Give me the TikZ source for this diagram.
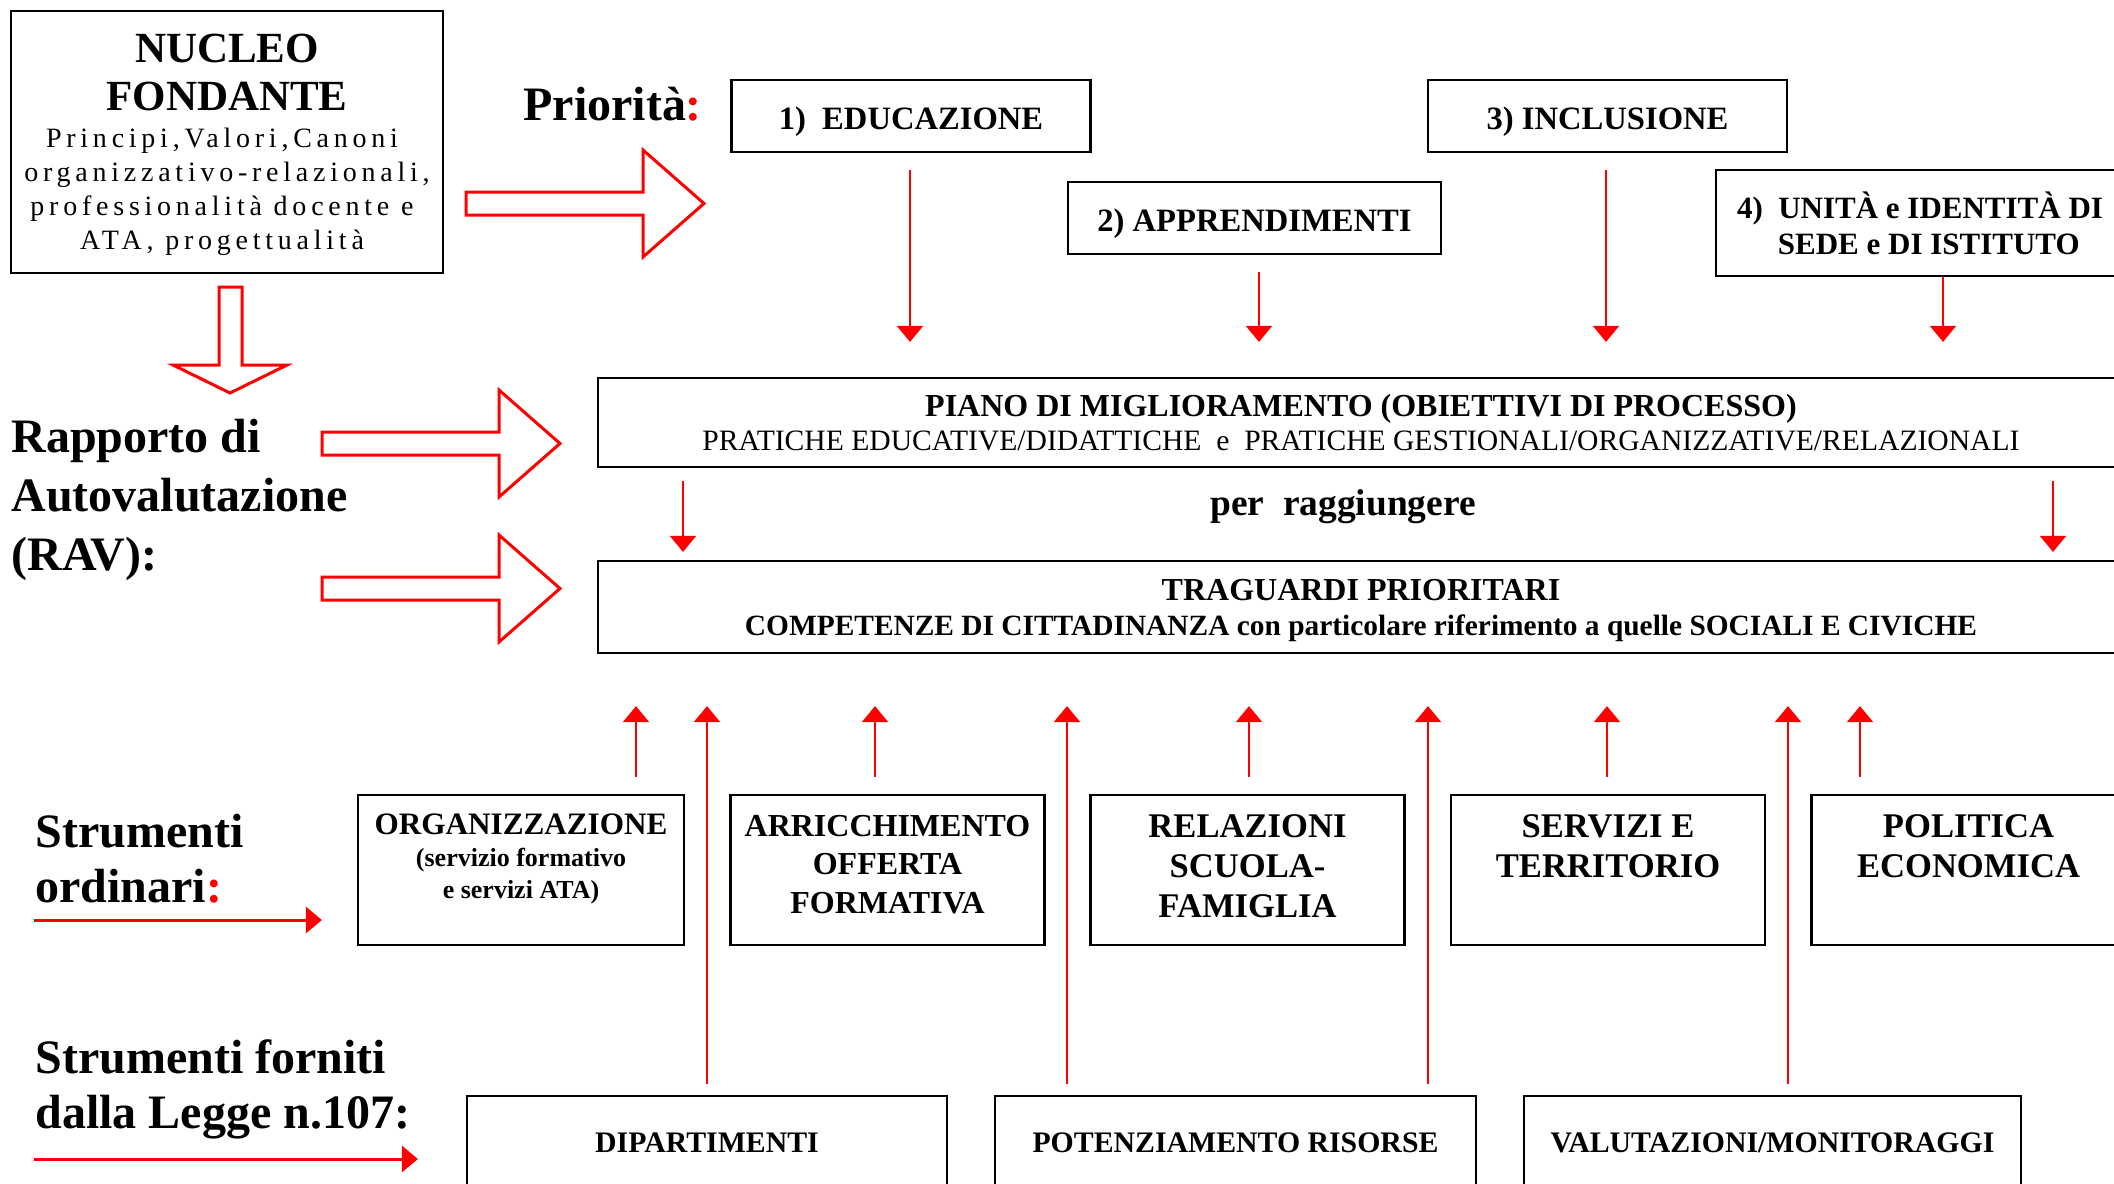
\documentclass[tikz,border=0pt]{standalone}
\usepackage{fontspec}
\setmainfont{Liberation Serif}
\newfontfamily\spaced[LetterSpace=17]{Liberation Serif}
\usetikzlibrary{arrows.meta}

\begin{document}
\begin{tikzpicture}[x=0.5pt,y=-0.5pt,>={Triangle[length=8pt,width=13pt]},
    arr/.style={->,red,line width=1pt},
    hollow/.style={draw=red,line width=1.5pt},
    prio box/.style={draw,line width=1.1pt,minimum width=179.5pt,minimum height=36pt,align=center,font=\bfseries\fontsize{16.3}{19}\selectfont},
    one line/.style={text height=16pt,text depth=2.6pt},
    wide box/.style={draw,line width=1.1pt,minimum width=763pt,align=center,font=\bfseries\fontsize{16}{17}\selectfont},
    tool box/.style={draw,line width=1.1pt,minimum width=157pt,minimum height=75pt},
    tool text/.style={anchor=north,yshift=-7pt,align=center,font=\bfseries\fontsize{17.3}{20}\selectfont},
    legge box/.style={draw,line width=1.1pt,minimum height=47pt,font=\bfseries\fontsize{14.9}{17}\selectfont},
    side text/.style={anchor=base west,inner sep=0pt,align=left,font=\bfseries\fontsize{24}{27.5}\selectfont}]

            \useasboundingbox (0,0) rectangle (2114,1183);

            \node[draw,line width=1pt,minimum width=216pt,minimum height=131pt,inner ysep=0pt,text depth=0pt,align=center,font=\spaced\fontsize{14}{17}\selectfont] (nucleo) at (227,142)
                {{\rmfamily\bfseries\fontsize{21.5}{24}\selectfont NUCLEO}\\[7pt]{\rmfamily\bfseries\fontsize{21.5}{24}\selectfont FONDANTE}\\[1.5pt]Principi,Valori,Canoni\kern5pt\\organizzativo-relazionali,\\professionalità docente e\kern5pt\\ATA, progettualità\kern5pt};
            \node[anchor=base west,inner sep=0pt,font=\bfseries\fontsize{24}{28}\selectfont] (prio) at (523,120) {Priorità\textcolor{red}{:}};

            \node[prio box,one line] (p1) at (911,116) {1)\enspace EDUCAZIONE};
            \node[prio box,one line,minimum width=186.5pt] (p2) at (1254.5,218) {2) APPRENDIMENTI};
            \node[prio box,one line] (p3) at (1607.5,116) {3) INCLUSIONE};
            \node[prio box,minimum width=204pt,minimum height=53pt,font=\bfseries\fontsize{15.5}{18}\selectfont] (p4) at (1920,223) {4)\enspace UNITÀ e IDENTITÀ DI\\\kern8.8pt SEDE e DI ISTITUTO};

            \node[wide box,minimum height=44.5pt,text depth=-2.5pt] (piano) at (1361,422.5) {PIANO DI MIGLIORAMENTO (OBIETTIVI DI PROCESSO)\\{\mdseries\fontsize{14.8}{17}\selectfont PRATICHE EDUCATIVE/DIDATTICHE\ \ e\ \ PRATICHE GESTIONALI/ORGANIZZATIVE/RELAZIONALI}};
            \node[font=\bfseries\fontsize{18.7}{20}\selectfont] (per) at (1343,507) {per\ \ raggiungere};
            \node[wide box,minimum height=46pt,text depth=-1pt] (trag) at (1361,607) {TRAGUARDI PRIORITARI\\[0.5pt]{\fontsize{14.7}{17}\selectfont COMPETENZE DI CITTADINANZA con particolare riferimento a quelle SOCIALI E CIVICHE}};

            \node[side text,font=\bfseries\fontsize{24}{29.5}\selectfont] (rav) at (11,570) {Rapporto di\\Autovalutazione\\(RAV):};
            \node[side text] (ordinari) at (35,902) {Strumenti\\ordinari\textcolor{red}{:}};
            \node[side text] (legge) at (35,1128) {Strumenti forniti\\dalla Legge n.107:};

            \node[tool box,minimum width=163pt,label={[tool text,yshift=0.5pt,font=\bfseries\fontsize{15.6}{20}\selectfont]north:{ORGANIZZAZIONE\\[-4pt]{\fontsize{13}{15.5}\selectfont(servizio formativo}\\[-4pt]{\fontsize{13}{15.5}\selectfont e servizi ATA)}}}] (s1) at (521,870) {};
            \node[tool box,label={[tool text,font=\bfseries\fontsize{16}{19.25}\selectfont]north:{ARRICCHIMENTO\\OFFERTA\\FORMATIVA}}] (s2) at (887.5,870) {};
            \node[tool box,label={[tool text]north:{RELAZIONI\\SCUOLA-\\FAMIGLIA}}] (s3) at (1247.5,870) {};
            \node[tool box,label={[tool text]north:{SERVIZI E\\TERRITORIO}}] (s4) at (1608,870) {};
            \node[tool box,label={[tool text]north:{POLITICA\\ECONOMICA}}] (s5) at (1968.5,870) {};

            \node[legge box,minimum width=240pt] (l1) at (707,1143) {DIPARTIMENTI};
            \node[legge box,minimum width=240.5pt] (l2) at (1235.5,1143) {POTENZIAMENTO RISORSE};
            \node[legge box,minimum width=248.5pt] (l3) at (1772.5,1143) {VALUTAZIONI/MONITORAGGI};

            \draw[hollow] (466,192) -- ++(177,0) -- ++(0,-42) -- ++(61,53.5) -- ++(-61,53.5) -- ++(0,-42) -- ++(-177,0) -- cycle;
            \draw[hollow] (219,287) -- ++(0,78) -- ++(-46,0) -- ++(57,28) -- ++(57,-28) -- ++(-45,0) -- ++(0,-78) -- cycle;
            \draw[hollow] (322,432) -- ++(177,0) -- ++(0,-42) -- ++(61,53.5) -- ++(-61,53.5) -- ++(0,-42) -- ++(-177,0) -- cycle;
            \draw[hollow] (322,577) -- ++(177,0) -- ++(0,-42) -- ++(61,53.5) -- ++(-61,53.5) -- ++(0,-42) -- ++(-177,0) -- cycle;

            \draw[arr,shorten <=8.5pt,shorten >=17.5pt] (p1.south -| 910,0) -- (piano.north -| 910,0);
            \draw[arr,shorten <=8.5pt,shorten >=17.5pt] (p2.south -| 1259,0) -- (piano.north -| 1259,0);
            \draw[arr,shorten <=8.5pt,shorten >=17.5pt] (p3.south -| 1606,0) -- (piano.north -| 1606,0);
            \draw[arr,shorten >=17.5pt] (p4.south -| 1943,0) -- (piano.north -| 1943,0);

            \draw[arr,shorten <=6.5pt,shorten >=4pt] (piano.south -| 683,0) -- (trag.north -| 683,0);
            \draw[arr,shorten <=6.5pt,shorten >=4pt] (piano.south -| 2053,0) -- (trag.north -| 2053,0);

            \draw[arr,shorten <=8.5pt,shorten >=26pt] (s1.north -| 636,0) -- (trag.south -| 636,0);
            \draw[arr,shorten <=8.5pt,shorten >=26pt] (s2.north -| 875,0) -- (trag.south -| 875,0);
            \draw[arr,shorten <=8.5pt,shorten >=26pt] (s3.north -| 1249,0) -- (trag.south -| 1249,0);
            \draw[arr,shorten <=8.5pt,shorten >=26pt] (s4.north -| 1607,0) -- (trag.south -| 1607,0);
            \draw[arr,shorten <=8.5pt,shorten >=26pt] (s5.north -| 1860,0) -- (trag.south -| 1860,0);

            \draw[arr,line width=1.3pt,shorten <=5.5pt,shorten >=26pt] (l1.north -| 707,0) -- (trag.south -| 707,0);
            \draw[arr,line width=1.3pt,shorten <=5.5pt,shorten >=26pt] (l2.north -| 1067,0) -- (trag.south -| 1067,0);
            \draw[arr,line width=1.3pt,shorten <=5.5pt,shorten >=26pt] (l2.north -| 1428,0) -- (trag.south -| 1428,0);
            \draw[arr,line width=1.3pt,shorten <=5.5pt,shorten >=26pt] (l3.north -| 1788,0) -- (trag.south -| 1788,0);

            \coordinate (o1) at (34,920);
            \coordinate (o2) at (34,1159);
            \draw[arr,line width=1.5pt,shorten >=17.5pt] (o1) -- (s1.west |- o1);
            \draw[arr,line width=1.5pt,shorten >=24pt] (o2) -- (l1.west |- o2);

        \end{tikzpicture}
\end{document}
